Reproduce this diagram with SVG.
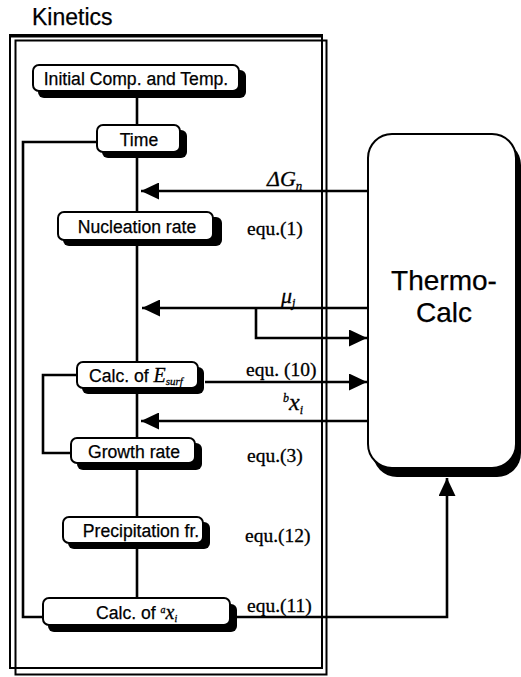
<svg xmlns="http://www.w3.org/2000/svg" width="521" height="677" viewBox="0 0 521 677">
<defs>
<marker id="ah" markerUnits="userSpaceOnUse" markerWidth="19" markerHeight="17" refX="18" refY="8.5" orient="auto" viewBox="0 0 19 17">
<path d="M0,0 L18,8.5 L0,17 z" fill="#000"/>
</marker>
</defs>
<style>
.sans{font-family:"Liberation Sans",Arial,sans-serif;fill:#000;stroke:#000;stroke-width:0.25}
.serif{font-family:"Liberation Serif","Times New Roman",serif;fill:#000;stroke:#000;stroke-width:0.3}
.it{font-style:italic}
.box{fill:#fff;stroke:#000;stroke-width:2}
.sh{fill:#000}
.ln{fill:none;stroke:#000;stroke-width:2.6}
.fr{fill:none;stroke:#000;stroke-width:2}
.lbl{font-size:17.6px;text-anchor:middle}
.eq{font-size:19.5px}
</style>
<rect width="521" height="677" fill="#fff"/>
<text class="sans" x="32" y="25" font-size="23" stroke-width="0">Kinetics</text>
<g id="frame">
<rect class="fr" x="10" y="35" width="312" height="633"/>
<line x1="10" y1="36" x2="322" y2="36" stroke="#000" stroke-width="3"/>
<rect class="fr" x="15.5" y="40.5" width="311" height="634" stroke-width="2.5"/>
</g>
<g id="connectors">
<line class="ln" x1="137" y1="91" x2="137" y2="600"/>
<path class="ln" d="M368,191 H141" marker-end="url(#ah)"/>
<path class="ln" d="M368,308 H142" marker-end="url(#ah)"/>
<path class="ln" d="M256,308 V338 H367" marker-end="url(#ah)"/>
<path class="ln" d="M205,382 H367" marker-end="url(#ah)"/>
<path class="ln" d="M368,421 H141" marker-end="url(#ah)"/>
<path class="ln" d="M78,375 H43 V453 H72"/>
<path class="ln" d="M97,142 H23 V617 H44"/>
<path class="ln" d="M235,617 H447 V478" marker-end="url(#ah)"/>
</g>
<g id="n_init">
<rect class="sh" x="38" y="70" width="208" height="28" rx="6"/>
<rect class="box" x="33" y="65" width="206" height="26" rx="6"/>
<text class="sans lbl" x="136" y="84.5">Initial Comp. and Temp.</text>
</g>
<g id="n_time">
<rect class="sh" x="102" y="130" width="85" height="28" rx="6"/>
<rect class="box" x="97" y="125" width="83" height="27" rx="6"/>
<text class="sans lbl" x="139" y="145.5">Time</text>
</g>
<g id="n_nuc">
<rect class="sh" x="63" y="217" width="159" height="29" rx="6"/>
<rect class="box" x="58" y="212" width="155" height="28" rx="6"/>
<text class="sans lbl" x="137" y="232.5">Nucleation rate</text>
</g>
<g id="n_esurf">
<rect class="sh" x="82" y="367" width="122" height="27" rx="6"/>
<rect class="box" x="77" y="362" width="121" height="26" rx="6"/>
<text class="sans" x="89" y="382" font-size="17.6">Calc. of <tspan class="serif it" font-size="20">E</tspan><tspan class="serif it" font-size="11" dy="3">surf</tspan></text>
</g>
<g id="n_growth">
<rect class="sh" x="77" y="443" width="125" height="27" rx="6"/>
<rect class="box" x="71" y="438" width="124" height="25" rx="6"/>
<text class="sans lbl" x="134" y="457.5">Growth rate</text>
</g>
<g id="n_precip">
<rect class="sh" x="68" y="522" width="142" height="27" rx="6"/>
<rect class="box" x="63" y="517" width="140" height="26" rx="6"/>
<text class="sans lbl" x="141" y="536.5">Precipitation fr.</text>
</g>
<g id="n_ax">
<rect class="sh" x="48" y="604" width="189" height="28" rx="6"/>
<rect class="box" x="43" y="598" width="187" height="27" rx="6"/>
<text class="sans" x="96" y="618.5" font-size="17.6">Calc. of <tspan class="serif it" font-size="10" dy="-6">a</tspan><tspan class="serif it" font-size="20" dy="6">x</tspan><tspan class="serif it" font-size="10" dy="3">i</tspan></text>
</g>
<g id="n_thermo">
<rect class="sh" x="373" y="141" width="148" height="336" rx="24"/>
<rect class="box" x="368" y="134" width="148" height="334" rx="24" stroke-width="2.5"/>
<text class="sans" x="444" y="290" font-size="28" text-anchor="middle" stroke-width="0">Thermo-</text>
<text class="sans" x="444" y="322" font-size="28" text-anchor="middle" stroke-width="0">Calc</text>
</g>
<g id="labels">
<text class="serif it" x="267" y="186" font-size="22">ΔG<tspan font-size="13" dy="4">n</tspan></text>
<text class="serif it" x="281" y="303" font-size="22">μ<tspan font-size="12" dy="4">j</tspan></text>
<text class="serif it" x="283" y="402" font-size="12">b<tspan font-size="24" dy="8">x</tspan><tspan font-size="12" dy="4">i</tspan></text>
<text class="serif eq" x="246" y="376">equ. (10)</text>
<text class="serif eq" x="247" y="235">equ.(1)</text>
<text class="serif eq" x="247" y="462">equ.(3)</text>
<text class="serif eq" x="245" y="542">equ.(12)</text>
<text class="serif eq" x="247" y="612">equ.(11)</text>
</g>
</svg>
